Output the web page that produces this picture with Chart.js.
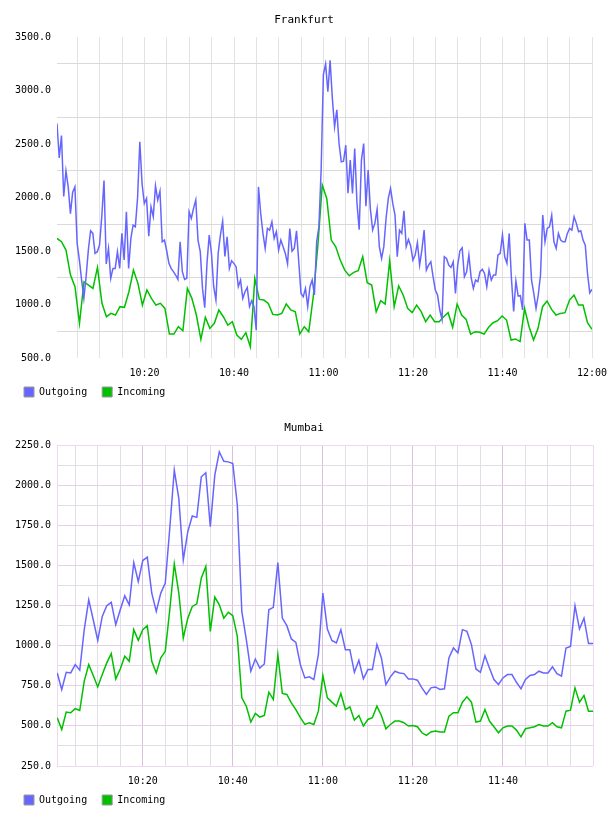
<!DOCTYPE html>
<html>
<head>
<meta charset="utf-8">
<script src="https://cdn.jsdelivr.net/npm/chart.js@4.4.1/dist/chart.umd.min.js"></script>
<style>
html,body{margin:0;padding:0;background:#fff;}
.box{position:relative;width:608px;height:408px;}
canvas{display:block;}
</style>
</head>
<body>
<div class="box"><canvas id="c1" width="608" height="408"></canvas></div>
<div class="box"><canvas id="c2" width="608" height="408"></canvas></div>
<script>
// ---------------- DATA ----------------
const seriesNames = ["Outgoing", "Incoming"];

const frankfurtTitle = "Frankfurt";
const frankfurtRange = ["10:00:26", "12:00:00"];
const frankfurtYTicks = [500, 1000, 1500, 2000, 2500, 3000, 3500];
const frankfurtXTicks = ["10:20", "10:40", "11:00", "11:20", "11:40", "12:00"];
const frankfurtOutgoingSpan = ["10:00:26", "12:00:00"];
const frankfurtOutgoing = [
  2693, 2370, 2580, 2010, 2250, 2100, 1850, 2050, 2100, 1572,
  1416, 1229, 1058, 1260, 1509, 1690, 1665, 1478, 1494, 1556,
  1821, 2160, 1380, 1525, 1245, 1338, 1338, 1494, 1338, 1665,
  1416, 1868, 1338, 1618, 1743, 1727, 2000, 2522, 2130, 1945,
  1992, 1640, 1914, 1821, 2110, 1977, 2060, 1587, 1603, 1503,
  1385, 1338, 1307, 1276, 1235, 1587, 1307, 1235, 1245, 1868,
  1805, 1899, 1977, 1600, 1494, 1151, 970, 1385, 1650, 1478,
  1167, 1042, 1478, 1650, 1780, 1450, 1634, 1338, 1410, 1385,
  1354, 1167, 1229, 1058, 1120, 1160, 980, 1036, 980, 760,
  2100, 1852, 1665, 1525, 1712, 1696, 1774, 1618, 1681, 1509,
  1603, 1541, 1478, 1380, 1710, 1500, 1525, 1690, 1400, 1104,
  1073, 1151, 980, 1167, 1229, 1090, 1587, 1727, 2260, 3150,
  3250, 2990, 3285, 2930, 2662, 2820, 2506, 2334, 2340, 2490,
  2040, 2350, 2039, 2459, 1950, 1700, 2350, 2506, 1920, 2257,
  1890, 1696, 1759, 1892, 1541, 1431, 1541, 1805, 1992, 2086,
  1945, 1836, 1447, 1696, 1665, 1877, 1541, 1609, 1547, 1416,
  1463, 1578, 1369, 1509, 1696, 1322, 1369, 1400, 1260, 1136,
  1089, 949, 860, 1447, 1431, 1369, 1347, 1400, 1104, 1369,
  1503, 1531, 1260, 1307, 1463, 1254, 1151, 1229, 1213, 1307,
  1329, 1291, 1167, 1322, 1229, 1276, 1276, 1463, 1478, 1650,
  1447, 1385, 1665, 1245, 935, 1220, 1080, 1083, 949, 1759,
  1603, 1603, 1229, 1104, 964, 1089, 1276, 1836, 1587, 1712,
  1727, 1836, 1587, 1525, 1665, 1603, 1587, 1587, 1665, 1712,
  1696, 1821, 1759, 1681, 1690, 1603, 1556, 1290, 1110, 1142
];
const frankfurtIncomingSpan = ["10:00:26", "12:00:00"];
const frankfurtIncoming = [
  1618, 1587, 1509, 1276, 1167, 824, 1213, 1182, 1151, 1347,
  1011, 886, 917, 902, 980, 974, 1120, 1322, 1198, 995,
  1136, 1058, 995, 1011, 964, 724, 724, 793, 755, 1151,
  1058, 902, 674, 880, 777, 824, 949, 886, 808, 840,
  715, 674, 737, 606, 1245, 1048, 1042, 1011, 908, 902,
  917, 1005, 949, 933, 724, 793, 746, 1073, 1540, 2117,
  1992, 1603, 1540, 1416, 1322, 1269, 1301, 1316, 1447, 1204,
  1182, 933, 1036, 1005, 1410, 980, 1173, 1089, 964, 924,
  995, 933, 840, 902, 840, 840, 886, 924, 787, 1005,
  902, 861, 724, 746, 740, 724, 787, 830, 849, 893,
  855, 668, 678, 653, 964, 793, 668, 777, 980, 1033,
  955, 902, 917, 924, 1042, 1089, 995, 995, 830, 768
];

const mumbaiTitle = "Mumbai";
const mumbaiRange = ["10:00:57", "12:00:00"];
const mumbaiYTicks = [250, 500, 750, 1000, 1250, 1500, 1750, 2000, 2250];
const mumbaiXTicks = ["10:20", "10:40", "11:00", "11:20", "11:40"];
const mumbaiSpan = ["10:01:00", "12:00:00"];
const mumbaiOutgoing = [
  830, 727, 834, 830, 882, 847, 1100, 1286, 1162, 1033,
  1183, 1249, 1270, 1131, 1224, 1311, 1255, 1518, 1400, 1531,
  1552, 1328, 1214, 1328, 1390, 1732, 2095, 1918, 1535, 1711,
  1809, 1800, 2053, 2078, 1742, 2063, 2209, 2150, 2146, 2136,
  1877, 1214, 1038, 841, 917, 861, 886, 1224, 1239, 1518,
  1172, 1125, 1042, 1021, 882, 799, 806, 789, 944, 1328,
  1104, 1033, 1017, 1100, 975, 975, 834, 909, 793, 851,
  851, 1007, 924, 758, 806, 841, 830, 826, 793, 793,
  785, 737, 696, 737, 743, 727, 731, 924, 986, 955,
  1100, 1089, 1007, 855, 834, 938, 861, 789, 758, 799,
  820, 820, 772, 731, 789, 814, 820, 841, 830, 830,
  868, 826, 810, 986, 996, 1249, 1104, 1172, 1013, 1013
];
const mumbaiIncoming = [
  551, 478, 586, 582, 607, 596, 779, 882, 814, 743,
  820, 893, 951, 793, 855, 934, 903, 1100, 1033, 1100,
  1125, 903, 830, 924, 965, 1224, 1510, 1330, 1048, 1172,
  1245, 1261, 1421, 1494, 1089, 1303, 1255, 1172, 1208, 1187,
  1058, 675, 623, 524, 578, 555, 565, 710, 665, 944,
  702, 696, 644, 602, 551, 509, 520, 509, 592, 814,
  675, 648, 623, 702, 602, 619, 536, 565, 499, 540,
  551, 623, 565, 482, 509, 530, 530, 520, 499, 503,
  495, 457, 441, 462, 468, 462, 462, 561, 582, 582,
  648, 681, 648, 524, 530, 602, 530, 495, 457, 488,
  499, 499, 474, 432, 482, 488, 495, 509, 499, 499,
  520, 495, 488, 592, 598, 737, 648, 690, 592, 592
];

// ---------------- HELPERS ----------------
const FONT = "'DejaVu Sans Mono', monospace";
const BLUE = "rgb(102,102,255)";
const GREEN = "rgb(0,192,0)";

const toMin = s => { const p = s.split(":").map(Number); return (p[0] - 10) * 60 + p[1] + (p[2] || 0) / 60; };
const fmtMin = v => { const h = 10 + Math.floor(v / 60 + 1e-9); const m = Math.round(v - (h - 10) * 60); return h + ":" + String(m).padStart(2, "0"); };
const points = (span, vals) => {
  const a = toMin(span[0]), b = toMin(span[1]), n = vals.length;
  return vals.map((y, i) => ({ x: a + (b - a) * i / (n - 1), y }));
};

const legendShift = {
  id: "legendShift",
  afterLayout(chart) {
    if (chart.legend) { chart.legend.left += 9; chart.legend.right += 9; }
  }
};

function makeChart(id, o) {
  const xmin = toMin(o.range[0]), xmax = toMin(o.range[1]);
  const xLabelSet = new Set(o.xTicks);
  const yLabelSet = new Set(o.yTicks);
  const yStep = o.yTicks[1] - o.yTicks[0];
  const ymin = o.yTicks[0], ymax = o.yTicks[o.yTicks.length - 1];
  return new Chart(document.getElementById(id), {
    type: "line",
    data: {
      datasets: [
        { label: seriesNames[0], data: points(o.outSpan, o.out), borderColor: BLUE, backgroundColor: BLUE, borderWidth: 1.5, pointRadius: 0, tension: 0 },
        { label: seriesNames[1], data: points(o.inSpan, o.inc), borderColor: GREEN, backgroundColor: GREEN, borderWidth: 1.5, pointRadius: 0, tension: 0 }
      ]
    },
    options: {
      responsive: false,
      animation: false,
      events: [],
      layout: { padding: { top: 0, left: 0, right: 0, bottom: 1 } },
      plugins: {
        title: { display: true, text: o.title, color: "#000", font: { family: FONT, size: 11, weight: "normal" }, padding: { top: 14, bottom: 10 } },
        legend: {
          position: "bottom", align: "start",
          labels: {
            boxWidth: 10, boxHeight: 10, padding: 15, color: "#000",
            font: { family: FONT, size: 10 },
            generateLabels: (chart) => Chart.defaults.plugins.legend.labels.generateLabels(chart)
              .map(l => Object.assign(l, { strokeStyle: "#999", lineWidth: 1 }))
          }
        },
        tooltip: { enabled: false }
      },
      scales: {
        x: {
          type: "linear", min: xmin, max: xmax,
          afterBuildTicks: (axis) => {
            const t = [];
            for (let m = Math.ceil(xmin / 5) * 5; m <= xmax + 1e-6; m += 5) t.push({ value: m });
            axis.ticks = t;
          },
          ticks: {
            autoSkip: false, maxRotation: 0, minRotation: 0, padding: 9, color: "#000",
            font: { family: FONT, size: 10 },
            callback: (v) => xLabelSet.has(fmtMin(v)) ? fmtMin(v) : ""
          },
          grid: { drawTicks: false, lineWidth: 1, color: (c) => o.xGrid(c.tick ? c.tick.value : 0, xmax) },
          border: { display: false },
          afterFit: (s) => {
            s.height = 14; s.paddingLeft = 0; s.paddingRight = o.rightPad;
            s._computeLabelArea = () => undefined;
          }
        },
        y: {
          type: "linear", min: ymin, max: ymax,
          afterBuildTicks: (axis) => {
            const t = [];
            for (let v = ymin; v <= ymax + 1e-6; v += yStep / 2) t.push({ value: v });
            axis.ticks = t;
          },
          ticks: {
            autoSkip: false, padding: 6, color: "#000",
            font: { family: FONT, size: 10 },
            callback: (v) => yLabelSet.has(v) ? v.toFixed(1) : ""
          },
          grid: { drawTicks: false, lineWidth: 1, color: (c) => o.yGrid(c.tick ? c.tick.value : 0, yLabelSet.has(c.tick ? c.tick.value : 0), ymin, ymax) },
          border: o.yBorder,
          afterFit: (s) => { s.width = o.leftW; }
        }
      }
    },
    plugins: [legendShift]
  });
}

makeChart("c1", {
  title: frankfurtTitle, range: frankfurtRange, xTicks: frankfurtXTicks, yTicks: frankfurtYTicks,
  outSpan: frankfurtOutgoingSpan, out: frankfurtOutgoing, inSpan: frankfurtIncomingSpan, inc: frankfurtIncoming,
  rightPad: 16, leftW: 57,
  xGrid: () => "rgb(226,226,226)",
  yGrid: (v, labelled) => labelled ? "rgba(0,0,0,0)" : "rgb(218,218,218)",
  yBorder: { display: false }
});

const MB_EDGE = "rgb(240,214,240)";
makeChart("c2", {
  title: mumbaiTitle, range: mumbaiRange, xTicks: mumbaiXTicks, yTicks: mumbaiYTicks,
  outSpan: mumbaiSpan, out: mumbaiOutgoing, inSpan: mumbaiSpan, inc: mumbaiIncoming,
  rightPad: 15, leftW: 57,
  xGrid: (v, xmax) => v >= xmax - 1e-6 ? MB_EDGE : (v % 20 === 0 ? "rgb(216,192,218)" : "rgb(228,220,230)"),
  yGrid: (v, labelled, ymin, ymax) => (v === ymin || v === ymax) ? MB_EDGE : (labelled ? "rgb(232,206,232)" : "rgb(226,220,230)"),
  yBorder: { display: true, color: MB_EDGE, width: 1 }
});
</script>
</body>
</html>
